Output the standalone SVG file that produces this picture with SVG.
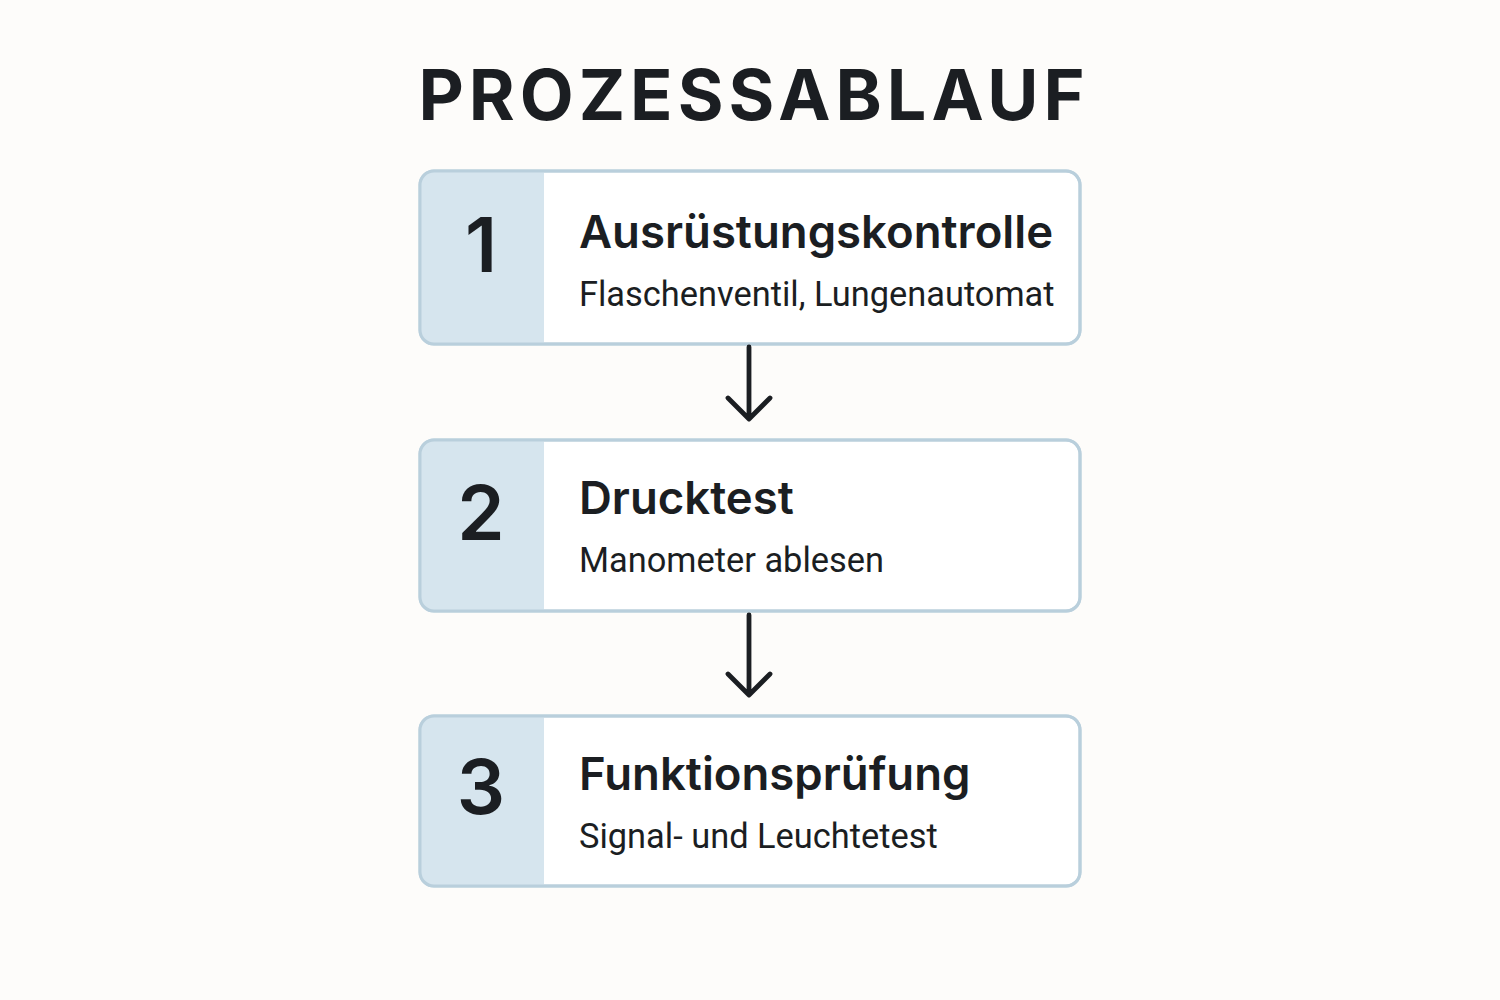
<svg xmlns="http://www.w3.org/2000/svg" width="1500" height="1000" viewBox="0 0 1500 1000">
<defs>
<style>
.title{font-family:Inter,"Liberation Sans",sans-serif;font-weight:700;font-size:70px;fill:#1b1e22;letter-spacing:5px}
.box{fill:#ffffff;stroke:#b9cfdc;stroke-width:3}
.panel{fill:#d6e5ee}
.num{font-family:Inter,"Liberation Sans",sans-serif;font-weight:600;font-size:76px;fill:#1b1e22;text-anchor:middle}
.head{font-family:Inter,"Liberation Sans",sans-serif;font-weight:600;font-size:45.5px;fill:#1b1e22}
.sub{font-family:Roboto,"Liberation Sans",sans-serif;font-weight:400;font-size:34.4px;fill:#1b1e22}
.conn{fill:none;stroke:#1b1e22;stroke-width:4.8;stroke-linecap:round;stroke-linejoin:round}
</style>
<clipPath id="c1"><rect x="420" y="171" width="660" height="173" rx="14"/></clipPath>
<clipPath id="c2"><rect x="420" y="440" width="660" height="171" rx="14"/></clipPath>
<clipPath id="c3"><rect x="420" y="716" width="660" height="170" rx="14"/></clipPath>
</defs>
<rect width="1500" height="1000" fill="#fdfcfa"/>
<text class="title" x="754" y="120" text-anchor="middle">PROZESSABLAUF</text>
<g id="node1">
<rect class="box" x="420" y="171" width="660" height="173" rx="14"/>
<rect class="panel" x="420" y="171" width="124" height="173" clip-path="url(#c1)"/>
<rect x="420" y="171" width="660" height="173" rx="14" fill="none" stroke="#b9cfdc" stroke-width="3"/>
<text class="num" x="481" y="272">1</text>
<text class="head" x="579" y="248">Ausrüstungskontrolle</text>
<text class="sub" x="579" y="306">Flaschenventil, Lungenautomat</text>
</g>
<g id="node2">
<rect class="box" x="420" y="440" width="660" height="171" rx="14"/>
<rect class="panel" x="420" y="440" width="124" height="171" clip-path="url(#c2)"/>
<rect x="420" y="440" width="660" height="171" rx="14" fill="none" stroke="#b9cfdc" stroke-width="3"/>
<text class="num" x="481" y="540">2</text>
<text class="head" x="579" y="514">Drucktest</text>
<text class="sub" x="579" y="572">Manometer ablesen</text>
</g>
<g id="node3">
<rect class="box" x="420" y="716" width="660" height="170" rx="14"/>
<rect class="panel" x="420" y="716" width="124" height="170" clip-path="url(#c3)"/>
<rect x="420" y="716" width="660" height="170" rx="14" fill="none" stroke="#b9cfdc" stroke-width="3"/>
<text class="num" x="481" y="814">3</text>
<text class="head" x="579" y="790">Funktionsprüfung</text>
<text class="sub" x="579" y="848">Signal- und Leuchtetest</text>
</g>
<g id="connectors">
<path class="conn" d="M749 347 V419 M728 398 L749 419 L770 398"/>
<path class="conn" d="M749 615 V695 M728 674 L749 695 L770 674"/>
</g>
</svg>
